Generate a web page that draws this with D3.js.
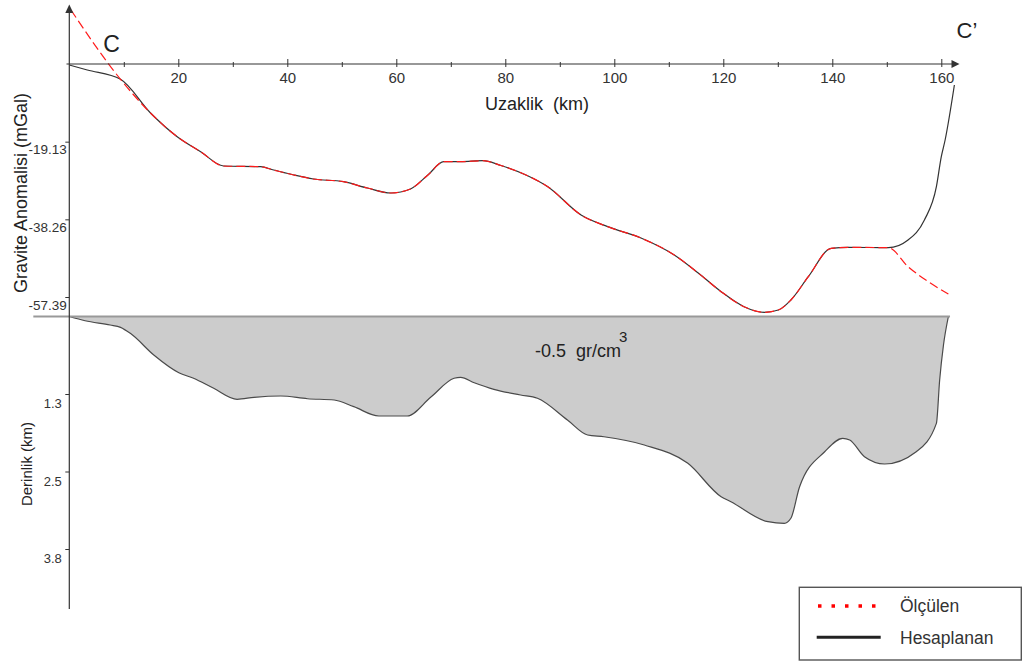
<!DOCTYPE html>
<html>
<head>
<meta charset="utf-8">
<script src="https://cdn.jsdelivr.net/npm/d3@7"></script>
<style>
  html, body { margin: 0; padding: 0; background: #fff; }
  svg { display: block; font-family: "Liberation Sans", Arial, sans-serif; }
</style>
</head>
<body>
<svg id="chart" width="1024" height="666"></svg>
<script>
// Gravity profile C–C' : measured (Ölçülen) vs. calculated (Hesaplanan) anomaly, in mGal
const measuredKm = [0.3, 9.4, 14.9, 19.8, 24.1, 28.3, 35.1, 37.5, 41.2, 44.8, 50.3, 54.7, 59.0, 62.6, 65.8, 68.7, 71.8, 75.9, 79.2, 84.1, 87.8, 93.9, 98.8, 104.9, 111.0, 115.4, 119.6, 123.8, 127.5, 130.1, 132.4, 135.6, 139.8, 142.9, 150.3, 153.9, 157.6, 161.3];
const measuredMgal = [13.3, -3.77, -12.07, -17.91, -21.60, -25.12, -25.30, -26.11, -27.34, -28.33, -28.99, -30.54, -31.77, -30.79, -27.34, -24.06, -24.06, -23.82, -25.00, -27.51, -30.22, -37.19, -40.07, -42.86, -47.04, -51.48, -56.08, -59.78, -61.16, -60.59, -58.13, -52.39, -45.39, -45.15, -45.25, -49.93, -53.62, -56.65];

const calculatedKm = [0, 3.3, 9.4, 14.9, 19.8, 24.1, 28.3, 35.1, 37.5, 41.2, 44.8, 50.3, 54.7, 59.0, 62.6, 65.8, 68.7, 71.8, 75.9, 79.2, 84.1, 87.8, 93.9, 98.8, 104.9, 111.0, 115.4, 119.6, 123.8, 127.5, 130.1, 132.4, 135.6, 139.8, 142.9, 150.3, 153.9, 156.9, 159.1, 160.0, 160.7, 162.4];
const calculatedMgal = [-0.25, -1.48, -3.77, -12.07, -17.91, -21.60, -25.12, -25.30, -26.11, -27.34, -28.33, -28.99, -30.54, -31.77, -30.79, -27.34, -24.06, -24.06, -23.82, -25.00, -27.51, -30.22, -37.19, -40.07, -42.86, -47.04, -51.48, -56.08, -59.78, -61.16, -60.59, -58.13, -52.39, -45.39, -45.15, -45.25, -43.35, -38.42, -30.22, -22.83, -18.72, -5.17];

// Basement depth of the -0.5 gr/cm3 body, in km
const depthKm = [0, 2.9, 7.5, 9.4, 11.2, 15.5, 20.1, 22.8, 26.5, 30.8, 33.9, 38.8, 43.7, 48.6, 52.2, 56.8, 62.0, 66.3, 70.6, 71.8, 74.3, 77.9, 82.8, 85.9, 91.4, 95.1, 98.1, 105.5, 113.5, 119.6, 121.4, 128.2, 131.2, 132.4, 134.0, 138.6, 141.9, 143.2, 145.9, 149.6, 155.4, 159.1, 159.7, 160.4, 161.3];
const depthValues = [0, 0.069, 0.139, 0.177, 0.275, 0.629, 0.919, 1.010, 1.174, 1.353, 1.321, 1.299, 1.344, 1.365, 1.474, 1.626, 1.626, 1.321, 1.010, 0.994, 1.082, 1.190, 1.283, 1.337, 1.692, 1.937, 1.965, 2.100, 2.400, 2.945, 3.027, 3.354, 3.380, 3.298, 2.782, 2.210, 1.991, 2.019, 2.292, 2.411, 2.210, 1.746, 1.038, 0.466, 0];

// Axis ticks
const distanceTicks = d3.range(10, 170, 10);
const gravityTicks = [-19.13, -38.26, -57.39];
const depthTicks = [3.8 / 3, 7.6 / 3, 3.8];

const legendLabels = ["Ölçülen", "Hesaplanan"];

const svg = d3.select("#chart");

const x = d3.scaleLinear().domain([0, 160]).range([69.3, 941.3]);
const yG = d3.scaleLinear().domain([0, -57.39]).range([64, 297]);
const yD = d3.scaleLinear().domain([0, 3.8]).range([316.5, 549]);

const zip = (a, b) => a.map((v, i) => [v, b[i]]);
const measured = zip(measuredKm, measuredMgal);
const calculated = zip(calculatedKm, calculatedMgal);
const depth = zip(depthKm, depthValues);

// ---- basement body (grey fill) ----
const area = d3.area()
  .x(d => x(d[0]))
  .y0(yD(0))
  .y1(d => yD(d[1]))
  .curve(d3.curveMonotoneX);
svg.append("path").datum(depth)
  .attr("d", area)
  .attr("fill", "#cccccc");

svg.append("path").datum(depth)
  .attr("d", d3.line().x(d => x(d[0])).y(d => yD(d[1])).curve(d3.curveMonotoneX))
  .attr("fill", "none")
  .attr("stroke", "#4a4a4a")
  .attr("stroke-width", 1.2);

// surface line at depth 0
svg.append("line")
  .attr("x1", x(-6.6)).attr("x2", x(161.6))
  .attr("y1", yD(0)).attr("y2", yD(0))
  .attr("stroke", "#999")
  .attr("stroke-width", 2.2);

// ---- gravity curves ----
const gLine = d3.line()
  .x(d => x(d[0]))
  .y(d => yG(d[1]))
  .curve(d3.curveMonotoneX);

svg.append("path").datum(calculated)
  .attr("d", gLine)
  .attr("fill", "none")
  .attr("stroke", "#333")
  .attr("stroke-width", 1.2);

svg.append("path").datum(measured)
  .attr("d", gLine)
  .attr("fill", "none")
  .attr("stroke", "#ff1a1a")
  .attr("stroke-width", 1.2)
  .attr("stroke-dasharray", "9,4");

// ---- axes ----
const axisColor = "#333";

// distance axis (along the zero line)
const xAxis = svg.append("g")
  .attr("transform", `translate(0,${yG(0)})`)
  .call(d3.axisBottom(x)
    .tickValues(distanceTicks)
    .tickSize(3)
    .tickFormat(d => d % 20 === 0 ? d : ""));
xAxis.select(".domain").remove();
xAxis.selectAll(".tick line")
  .attr("y1", d => d % 20 === 0 ? -5 : -2)
  .attr("stroke", axisColor);
xAxis.selectAll(".tick text")
  .attr("y", 18.7).attr("dy", null)
  .attr("fill", "#333")
  .style("font-size", "15px");

svg.append("line")
  .attr("x1", 66.5).attr("x2", 953)
  .attr("y1", yG(0)).attr("y2", yG(0))
  .attr("stroke", axisColor).attr("stroke-width", 1.2);
svg.append("path")
  .attr("d", `M959.5,${yG(0)} L951.5,${yG(0) - 4} L951.5,${yG(0) + 4} Z`)
  .attr("fill", axisColor);

// vertical axis
svg.append("line")
  .attr("x1", 69.3).attr("x2", 69.3)
  .attr("y1", 11).attr("y2", 609)
  .attr("stroke", axisColor).attr("stroke-width", 1.2);
svg.append("path")
  .attr("d", "M69.3,4.5 L65.3,13 L73.3,13 Z")
  .attr("fill", axisColor);

// gravity ticks
const gAxis = svg.append("g")
  .attr("transform", "translate(69.3,0)")
  .call(d3.axisLeft(yG).tickValues(gravityTicks).tickSize(4).tickFormat(d => d.toFixed(2)));
gAxis.select(".domain").remove();
gAxis.selectAll(".tick line").attr("stroke", axisColor);
gAxis.selectAll(".tick text")
  .attr("x", -2.5).attr("y", 12).attr("dy", null)
  .attr("fill", "#333")
  .style("font-size", "13.5px");

// depth ticks
const dAxis = svg.append("g")
  .attr("transform", "translate(69.3,0)")
  .call(d3.axisLeft(yD).tickValues(depthTicks).tickSize(4).tickFormat(d => d.toFixed(1)));
dAxis.select(".domain").remove();
dAxis.selectAll(".tick line").attr("stroke", axisColor);
dAxis.selectAll(".tick text")
  .attr("x", -7.5).attr("y", 13.5).attr("dy", null)
  .attr("fill", "#333")
  .style("font-size", "13px");

// ---- titles ----
svg.append("text")
  .attr("x", 485).attr("y", 110)
  .attr("fill", "#222")
  .style("font-size", "18px")
  .style("white-space", "pre")
  .text("Uzaklik  (km)");

svg.append("text")
  .attr("transform", "translate(26.5,193) rotate(-90)")
  .attr("text-anchor", "middle")
  .attr("fill", "#222")
  .style("font-size", "18px")
  .text("Gravite Anomalisi (mGal)");

svg.append("text")
  .attr("transform", "translate(31.5,464) rotate(-90)")
  .attr("text-anchor", "middle")
  .attr("fill", "#222")
  .style("font-size", "15px")
  .text("Derinlik (km)");

svg.append("text")
  .attr("x", 103.3).attr("y", 51.7)
  .attr("fill", "#222")
  .style("font-size", "23px")
  .text("C");

svg.append("text")
  .attr("x", 956.5).attr("y", 38.3)
  .attr("fill", "#222")
  .style("font-size", "22px")
  .text("C\u2019");

// density label
const dens = svg.append("text")
  .attr("x", 535).attr("y", 356.7)
  .attr("fill", "#222")
  .style("font-size", "18px")
  .style("white-space", "pre");
dens.append("tspan").text("-0.5  gr/cm");
dens.append("tspan").attr("dx", -2).attr("dy", -15).style("font-size", "15px").text("3");

// ---- legend ----
const lg = svg.append("g");
lg.append("rect")
  .attr("x", 799.3).attr("y", 587.3)
  .attr("width", 222).attr("height", 72.7)
  .attr("fill", "#fff")
  .attr("stroke", "#555").attr("stroke-width", 1.4);
lg.append("line")
  .attr("x1", 818).attr("x2", 880).attr("y1", 606).attr("y2", 606)
  .attr("stroke", "#ff0000").attr("stroke-width", 3.5)
  .attr("stroke-dasharray", "3.5,10");
lg.append("line")
  .attr("x1", 816.7).attr("x2", 880.7).attr("y1", 637.3).attr("y2", 637.3)
  .attr("stroke", "#222").attr("stroke-width", 3);
lg.selectAll("text.lbl").data(legendLabels).enter().append("text")
  .attr("class", "lbl")
  .attr("x", 900)
  .attr("y", (d, i) => i === 0 ? 611.5 : 644)
  .attr("fill", "#333")
  .style("font-size", "17.5px")
  .text(d => d);
</script>
</body>
</html>
